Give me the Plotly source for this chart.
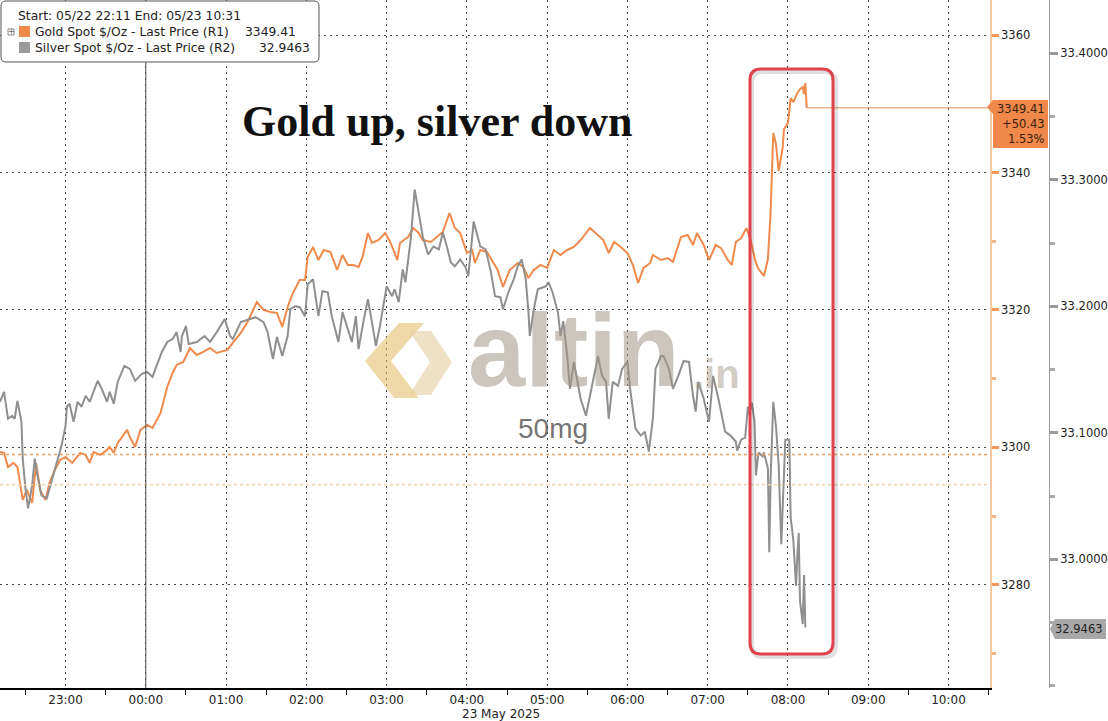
import plotly.graph_objects as go
import pandas as pd

# ---------------- data ----------------
# minutes after 2025-05-22 22:00
gold_min = [11, 14, 17, 21, 24, 28, 31, 35, 38, 41,
            45, 48, 52, 56, 60, 65, 71, 75, 78, 81,
            86, 91, 93, 96, 99, 102, 106, 108, 112, 116,
            121, 125, 131, 136, 140, 143, 148, 153, 158, 163,
            168, 173, 181, 185, 191, 196, 203, 208, 213, 218,
            222, 226, 230, 235, 239, 241, 245, 249, 253, 258,
            263, 267, 271, 275, 279, 282, 286, 289, 294, 299,
            303, 308, 310, 316, 320, 324, 327, 333, 339, 342,
            347, 351, 355, 360, 364, 366, 370, 375, 383, 387,
            392, 398, 402, 406, 410, 415, 420, 425, 430, 435,
            440, 445, 452, 458, 462, 466, 470, 475, 480, 484,
            488, 492, 497, 499, 505, 510, 514, 520, 525, 529,
            532, 537, 541, 546, 550, 555, 558, 561, 565, 569,
            572, 576, 578, 582, 585, 587, 589, 591, 593, 596,
            597, 600, 602, 604, 607, 609, 611, 612, 613, 614]
gold_price = [3299.34, 3299.20, 3297.16, 3297.75, 3297.16, 3292.36, 3293.82, 3291.93, 3297.75, 3293.82,
              3292.36, 3294.84, 3296.73, 3298.18, 3298.62, 3297.75, 3299.20, 3298.91, 3297.75, 3299.34,
              3298.91, 3299.64, 3300.07, 3299.20, 3300.65, 3301.53, 3302.55, 3301.53, 3300.07, 3302.55,
              3303.27, 3302.84, 3305.02, 3308.80, 3310.84, 3312.00, 3312.44, 3314.47, 3313.46, 3313.89,
              3314.47, 3313.75, 3314.18, 3315.20, 3316.66, 3318.26, 3321.16, 3320.00, 3319.71, 3319.56,
              3317.53, 3320.44, 3322.47, 3324.36, 3324.36, 3327.71, 3329.16, 3327.27, 3328.73, 3328.44,
              3325.82, 3328.00, 3326.55, 3326.55, 3326.25, 3327.71, 3331.20, 3329.75, 3330.18, 3331.20,
              3329.75, 3327.27, 3329.75, 3330.62, 3331.93, 3331.20, 3330.18, 3329.89, 3330.91, 3331.35,
              3334.11, 3331.93, 3331.20, 3328.29, 3328.73, 3326.84, 3328.73, 3328.44, 3325.82, 3323.35,
              3325.82, 3326.84, 3326.25, 3324.65, 3325.82, 3326.55, 3326.11, 3328.73, 3328.00, 3328.73,
              3329.16, 3330.18, 3331.93, 3330.91, 3330.18, 3328.29, 3329.89, 3329.16, 3328.29, 3326.55,
              3323.93, 3326.11, 3326.84, 3328.00, 3327.27, 3327.56, 3327.00, 3330.62, 3330.91, 3329.45,
              3331.20, 3329.45, 3327.27, 3329.45, 3329.00, 3327.27, 3326.55, 3329.89, 3330.47, 3331.93,
              3330.18, 3326.84, 3325.96, 3324.95, 3327.42, 3334.11, 3345.75, 3344.15, 3340.22, 3343.56,
              3346.33, 3347.20, 3350.84, 3350.25, 3351.56, 3352.14, 3352.44, 3351.42, 3353.02, 3349.41]

silver_min = [11, 14, 17, 20, 22, 24, 27, 28, 30, 32,
              35, 37, 39, 42, 46, 50, 54, 57, 60, 61,
              63, 66, 69, 72, 75, 78, 84, 87, 91, 93,
              96, 99, 104, 108, 112, 117, 121, 125, 128, 132,
              136, 140, 143, 146, 147, 150, 152, 158, 164, 168,
              173, 179, 183, 185, 191, 197, 202, 208, 211, 215,
              218, 222, 226, 228, 232, 235, 239, 241, 245, 249,
              252, 256, 259, 264, 267, 271, 274, 277, 279, 283,
              286, 289, 292, 295, 300, 304, 306, 309, 312, 314,
              318, 321, 324, 327, 331, 335, 339, 342, 345, 348,
              351, 355, 359, 361, 364, 365, 368, 370, 374, 378,
              381, 385, 387, 391, 395, 398, 401, 404, 406, 407,
              410, 413, 419, 421, 424, 428, 430, 432, 435, 437,
              440, 443, 445, 449, 452, 455, 458, 461, 464, 466,
              469, 473, 476, 480, 482, 486, 490, 493, 496, 499,
              501, 505, 507, 511, 514, 518, 522, 526, 529, 531,
              533, 537, 541, 544, 548, 553, 557, 561, 562, 565,
              568, 570, 571, 573, 575, 576, 578, 581, 582, 585,
              586, 587, 589, 591, 593, 595, 597, 598, 601, 602,
              604, 606, 607, 608, 609, 611, 612, 613]
silver_price = [33.1245, 33.1324, 33.1111, 33.1135, 33.1111, 33.1253, 33.1088, 33.0796, 33.0560, 33.0403,
                33.0584, 33.0796, 33.0663, 33.0505, 33.0482, 33.0639, 33.0773, 33.0899, 33.1056, 33.1206,
                33.1230, 33.1088, 33.1245, 33.1206, 33.1293, 33.1245, 33.1411, 33.1348, 33.1245, 33.1324,
                33.1230, 33.1403, 33.1529, 33.1505, 33.1411, 33.1466, 33.1481, 33.1442, 33.1529, 33.1639,
                33.1718, 33.1741, 33.1796, 33.1639, 33.1765, 33.1844, 33.1702, 33.1718, 33.1765, 33.1718,
                33.1796, 33.1899, 33.1765, 33.1741, 33.1875, 33.1899, 33.1914, 33.1875, 33.1796, 33.1584,
                33.1757, 33.1607, 33.1765, 33.1977, 33.2001, 33.1993, 33.1922, 33.2174, 33.2213, 33.1922,
                33.2119, 33.2111, 33.1922, 33.1718, 33.1954, 33.1820, 33.1718, 33.1922, 33.1662, 33.1899,
                33.2056, 33.1875, 33.1686, 33.1844, 33.2158, 33.2080, 33.2135, 33.2032, 33.2292, 33.2190,
                33.2528, 33.2922, 33.2741, 33.2552, 33.2410, 33.2473, 33.2449, 33.2583, 33.2473, 33.2347,
                33.2316, 33.2371, 33.2308, 33.2237, 33.2552, 33.2670, 33.2552, 33.2473, 33.2449, 33.2268,
                33.2080, 33.2072, 33.1977, 33.2111, 33.2213, 33.2316, 33.2371, 33.2213, 33.1954, 33.1765,
                33.1977, 33.2135, 33.2158, 33.2190, 33.2111, 33.1954, 33.1765, 33.1883, 33.1607, 33.1348,
                33.1560, 33.1403, 33.1269, 33.1135, 33.1293, 33.1450, 33.1607, 33.1450, 33.1403, 33.1111,
                33.1403, 33.1371, 33.1505, 33.1560, 33.1348, 33.1033, 33.0978, 33.1009, 33.0852, 33.1111,
                33.1505, 33.1607, 33.1607, 33.1505, 33.1348, 33.1450, 33.1568, 33.1560, 33.1293, 33.1167,
                33.1403, 33.1269, 33.1088, 33.1450, 33.1269, 33.1009, 33.0978, 33.0931, 33.0860, 33.0946,
                33.0962, 33.1206, 33.1143, 33.1238, 33.1088, 33.0663, 33.0844, 33.0813, 33.0844, 33.0718,
                33.0057, 33.0632, 33.1245, 33.1056, 33.0750, 33.0120, 33.0632, 33.0946, 33.0946, 33.0332,
                33.0151, 32.9789, 33.0026, 33.0207, 32.9671, 32.9490, 32.9876, 32.9463]

gold_last = 3349.41
gold_change = "+50.43"
gold_change_pct = "1.53%"
silver_last = 32.9463
gold_prev_close = 3298.98
silver_prev_close = 33.059

x_start = "2025-05-22 22:11"
x_end = "2025-05-23 10:31"
gold_ticks = [3280, 3300, 3320, 3340, 3360]
silver_ticks = [33.0, 33.1, 33.2, 33.3, 33.4]

title_text = "Gold up, silver down"
legend_header = "Start: 05/22 22:11 End: 05/23 10:31"
gold_name = "Gold Spot $/Oz - Last Price (R1)"
silver_name = "Silver Spot $/Oz - Last Price (R2)"

# ---------------- styling ----------------
GOLD = "#f08a4b"
SILVER = "#8f8f8f"
W, H = 1108, 721
PH = 688  # plot area height in px
FONT = "DejaVu Sans"
LEG = 12.3
TICK = 12

base = pd.Timestamp("2025-05-22 22:00")
gold_t = base + pd.to_timedelta(gold_min, unit="m")
silver_t = base + pd.to_timedelta(silver_min, unit="m")


def px(x):
    return x / W


def py(y):
    return 1 - y / PH


def pt(a, b):
    return f"{px(a):.5f},{py(b):.5f}"


def poly(points):
    s = "M " + pt(*points[0])
    for a, b in points[1:]:
        s += " L " + pt(a, b)
    return s + " Z"


def rrect(x0, y0, x1, y1, r):
    return (f"M {pt(x0 + r, y0)} L {pt(x1 - r, y0)} Q {pt(x1, y0)} {pt(x1, y0 + r)} "
            f"L {pt(x1, y1 - r)} Q {pt(x1, y1)} {pt(x1 - r, y1)} "
            f"L {pt(x0 + r, y1)} Q {pt(x0, y1)} {pt(x0, y1 - r)} "
            f"L {pt(x0, y0 + r)} Q {pt(x0, y0)} {pt(x0 + r, y0)} Z")


def ann(text, x, y, size=LEG, color="#222", family=FONT, xanchor="center", yanchor="middle", **kw):
    return dict(text=text, x=px(x), y=py(y), xref="paper", yref="paper", showarrow=False,
                font=dict(size=size, color=color, family=family), xanchor=xanchor,
                yanchor=yanchor, **kw)


fig = go.Figure()
fig.add_trace(go.Scatter(x=silver_t, y=silver_price, yaxis="y2", mode="lines",
                         line=dict(color=SILVER, width=2), name=silver_name))
fig.add_trace(go.Scatter(x=gold_t, y=gold_price, yaxis="y", mode="lines",
                         line=dict(color=GOLD, width=2), name=gold_name))

shapes = []
# previous close reference lines
shapes.append(dict(type="line", xref="x domain", yref="y", x0=0, x1=1, y0=gold_prev_close,
                   y1=gold_prev_close, line=dict(color="#f0a060", width=1.5, dash="dot")))
shapes.append(dict(type="line", xref="x domain", yref="y2", x0=0, x1=1, y0=silver_prev_close,
                   y1=silver_prev_close, line=dict(color="#f2d2a8", width=1.5, dash="dot")))
# midnight separator
shapes.append(dict(type="line", xref="x", yref="y domain", x0="2025-05-23 00:00",
                   x1="2025-05-23 00:00", y0=0, y1=1, line=dict(color="#555", width=1)))
# gold last price line
shapes.append(dict(type="line", xref="x", yref="y", x0=gold_t[-1], x1=x_end, y0=gold_last,
                   y1=gold_last, line=dict(color=GOLD, width=1)))

# watermark logo (approximate)
shapes.append(dict(type="path", xref="paper", yref="paper", layer="above",
                   path=poly([(365, 361), (399, 323), (424, 323), (391, 361), (419, 398), (394, 398)]),
                   fillcolor="rgba(226,186,96,0.55)", line=dict(width=0)))
shapes.append(dict(type="path", xref="paper", yref="paper", layer="above",
                   path=poly([(409, 331), (431, 331), (452, 362), (431, 395), (409, 395), (430, 362)]),
                   fillcolor="rgba(228,205,160,0.6)", line=dict(width=0)))

# red highlight box with faint shadow
shapes.append(dict(type="path", xref="paper", yref="paper", path=rrect(752, 72, 836, 657, 11),
                   line=dict(color="rgba(0,0,0,0.12)", width=4)))
shapes.append(dict(type="path", xref="paper", yref="paper", path=rrect(750, 69, 833, 654, 11),
                   line=dict(color="#e0434c", width=3)))

# legend box
shapes.append(dict(type="path", xref="paper", yref="paper", path=rrect(1, 1, 319, 62, 5),
                   line=dict(color="#555", width=1), fillcolor="white"))
shapes.append(dict(type="rect", xref="paper", yref="paper", x0=px(19), x1=px(30), y0=py(37),
                   y1=py(26), fillcolor=GOLD, line=dict(width=0)))
shapes.append(dict(type="rect", xref="paper", yref="paper", x0=px(19), x1=px(30), y0=py(53),
                   y1=py(42), fillcolor="#9a9a9a", line=dict(width=0)))
shapes.append(dict(type="rect", xref="paper", yref="paper", x0=px(8), x1=px(14), y0=py(35),
                   y1=py(29), fillcolor="white", line=dict(color="#888", width=1)))

# right axis value labels
shapes.append(dict(type="path", xref="paper", yref="paper",
                   path=poly([(993, 100), (1048, 100), (1048, 148), (993, 148), (993, 114), (987, 107)]),
                   fillcolor="#f0884a", line=dict(width=0)))
shapes.append(dict(type="path", xref="paper", yref="paper",
                   path=poly([(1055, 619), (1106, 619), (1106, 639), (1055, 639), (1050, 629)]),
                   fillcolor="#a8a8a8", line=dict(width=0)))

annotations = []
# title
annotations.append(ann(f"<b>{title_text}</b>", 437, 122, size=44, color="#111",
                       family="Liberation Serif"))

# watermark text
annotations.append(ann("<b>altin</b>", 574, 350, size=103, color="rgba(160,150,135,0.55)",
                       family="Liberation Sans"))
annotations.append(ann("<b>.in</b>", 716, 374, size=40, color="rgba(165,155,140,0.5)",
                       family="Liberation Sans"))
annotations.append(ann("50mg", 553, 428, size=28, color="rgba(70,70,70,0.75)",
                       family="Liberation Sans"))

# legend text
annotations.append(ann(legend_header, 16, 16, xanchor="left"))
annotations.append(ann(gold_name, 33, 32, xanchor="left"))
annotations.append(ann(f"{gold_last:.2f}", 298, 32, xanchor="right"))
annotations.append(ann(silver_name, 33, 48, xanchor="left"))
annotations.append(ann(f"{silver_last:.4f}", 312, 48, xanchor="right"))
annotations.append(ann("+", 11, 31.5, size=8, color="#666"))

# axis value labels
annotations.append(ann(f"{gold_last:.2f}", 1047, 109, size=11.5, color="#3a1e0c", xanchor="right"))
annotations.append(ann(gold_change, 1047, 124, size=11.5, color="#3a1e0c", xanchor="right"))
annotations.append(ann(gold_change_pct, 1047, 139, size=11.5, color="#3a1e0c", xanchor="right"))
annotations.append(ann(f"{silver_last:.4f}", 1105, 629, size=11.5, color="#222", xanchor="right"))

# date under the time axis
annotations.append(ann("23 May 2025", 460, 714, size=TICK, xanchor="left"))

grid_dash = "2px,4px"
fig.update_layout(
    width=W, height=H,
    margin=dict(l=0, r=0, t=0, b=H - PH, autoexpand=False),
    paper_bgcolor="white", plot_bgcolor="white", showlegend=False,
    xaxis=dict(domain=[0, 990 / W], type="date", range=[x_start, x_end],
               tick0="2025-05-22 23:00", dtick=3600000, tickformat="%H:%M",
               showgrid=True, gridcolor="#444", griddash=grid_dash, gridwidth=1,
               showline=True, linecolor="black", linewidth=1.5, ticks="",
               tickfont=dict(family=FONT, size=TICK, color="#222"), zeroline=False,
               minor=dict(dtick=1800000, ticks="outside", ticklen=5, tickcolor="black",
                          tickwidth=1, showgrid=False)),
    yaxis=dict(side="right", anchor="x", range=[3265.0, 3365.1],
               tickmode="array", tickvals=gold_ticks, ticktext=[str(v) for v in gold_ticks],
               ticks="outside", ticklen=7, tickwidth=3, tickcolor="#f0975a",
               showline=True, linecolor="#f2c7a2", linewidth=1.5,
               showgrid=True, gridcolor="#444", griddash=grid_dash, gridwidth=1,
               tickfont=dict(family=FONT, size=11.5, color="#222"), zeroline=False,
               minor=dict(dtick=10, tick0=3270, ticks="outside", ticklen=4, tickcolor="#f2b48a",
                          showgrid=False)),
    yaxis2=dict(overlaying="y", side="right", anchor="free", position=1049 / W,
                range=[32.8983, 33.4421], tickmode="array", tickvals=silver_ticks,
                ticktext=[f"{v:.4f}" for v in silver_ticks],
                ticks="outside", ticklen=8, tickwidth=3, tickcolor="#9a9a9a",
                showline=True, linecolor="#9a9a9a", linewidth=1, showgrid=False,
                tickfont=dict(family=FONT, size=11.5, color="#222"), zeroline=False,
                minor=dict(dtick=0.05, tick0=32.95, ticks="outside", ticklen=5, tickcolor="#aaa",
                           showgrid=False)),
    shapes=shapes,
    annotations=annotations,
)

fig.write_html("out.html", config={"displayModeBar": False},
               post_script="document.body.style.margin='0px';")
